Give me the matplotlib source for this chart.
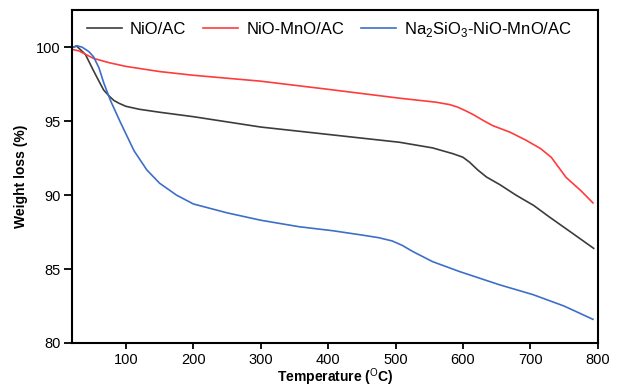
import numpy as np
import matplotlib
matplotlib.use('Agg')
import matplotlib.pyplot as plt

plt.rcParams['font.family'] = ['Liberation Sans', 'DejaVu Sans']
plt.rcParams['mathtext.fontset'] = 'custom'
plt.rcParams['mathtext.rm'] = 'Liberation Sans'
plt.rcParams['mathtext.bf'] = 'Liberation Sans:bold'

# NiO/AC
temp_nio = [22, 27, 40, 52, 60, 67, 75, 82, 90, 100, 120, 150, 200, 250, 300, 350,
            400, 450, 506, 555, 585, 600, 610, 622, 635, 655, 679, 705, 728, 760, 794]
wl_nio = [100.0, 100.07, 99.5, 98.4, 97.7, 97.1, 96.7, 96.4, 96.2, 96.0, 95.8, 95.6,
          95.3, 94.95, 94.6, 94.35, 94.1, 93.85, 93.57, 93.19, 92.8, 92.56, 92.22,
          91.7, 91.22, 90.7, 89.99, 89.3, 88.53, 87.5, 86.4]

# NiO-MnO/AC
temp_mno = [20, 30, 52, 75, 100, 150, 200, 300, 400, 506, 560, 580, 592, 604, 615, 630,
            644, 670, 694, 715, 731, 753, 775, 793]
wl_mno = [99.85, 99.75, 99.24, 98.95, 98.7, 98.35, 98.1, 97.7, 97.15, 96.55, 96.28,
          96.12, 95.95, 95.7, 95.45, 95.05, 94.7, 94.25, 93.7, 93.15, 92.56, 91.2, 90.3, 89.47]

# Na2SiO3-NiO-MnO/AC
temp_na = [22, 27, 35, 45, 52, 60, 67, 77, 92, 112, 131, 150, 175, 200, 250, 300, 357,
           407, 450, 475, 495, 510, 525, 555, 595, 654, 704, 750, 793]
wl_na = [100.0, 100.1, 100.0, 99.7, 99.35, 98.6, 97.6, 96.4, 94.9, 93.0, 91.7, 90.8,
         90.0, 89.4, 88.8, 88.3, 87.86, 87.59, 87.3, 87.12, 86.9, 86.6, 86.2, 85.5, 84.83,
         83.94, 83.27, 82.5, 81.6]

labels = ['NiO/AC', 'NiO-MnO/AC', 'Na$_2$SiO$_3$-NiO-MnO/AC']
colors = ['#3c3c3c', '#ff3b3b', '#3d6fc8']

fig = plt.figure(figsize=(6.17, 3.87), dpi=100)
ax = fig.add_axes([0.1167, 0.1137, 0.852, 0.860])

for t, w, lab, c in zip([temp_nio, temp_mno, temp_na], [wl_nio, wl_mno, wl_na], labels, colors):
    ax.plot(t, w, color=c, lw=1.2, label=lab)

ax.set_xlim(20, 800)
ax.set_ylim(80, 102.5)
ax.set_xticks(np.arange(100, 801, 100))
ax.set_yticks([80, 85, 90, 95, 100])
ax.tick_params(axis='both', labelsize=10.5, width=1.3, direction='out', colors='black')
ax.tick_params(axis='x', length=4.5, pad=3)
ax.tick_params(axis='y', length=6, pad=2)
for s in ax.spines.values():
    s.set_linewidth(1.5)

ax.set_xlabel(r'Temperature ($^{\mathrm{O}}$C)', fontsize=10, fontweight='bold', labelpad=-1)
ax.set_ylabel('Weight loss (%)', fontsize=10, fontweight='bold', labelpad=6)

ax.legend(loc='upper center', ncol=3, frameon=False, fontsize=12, handlelength=2.1,
          handletextpad=0.5, columnspacing=1.0, borderaxespad=0.2,
          bbox_to_anchor=(0.49, 1.0))

fig.savefig('out.png', dpi=100)
